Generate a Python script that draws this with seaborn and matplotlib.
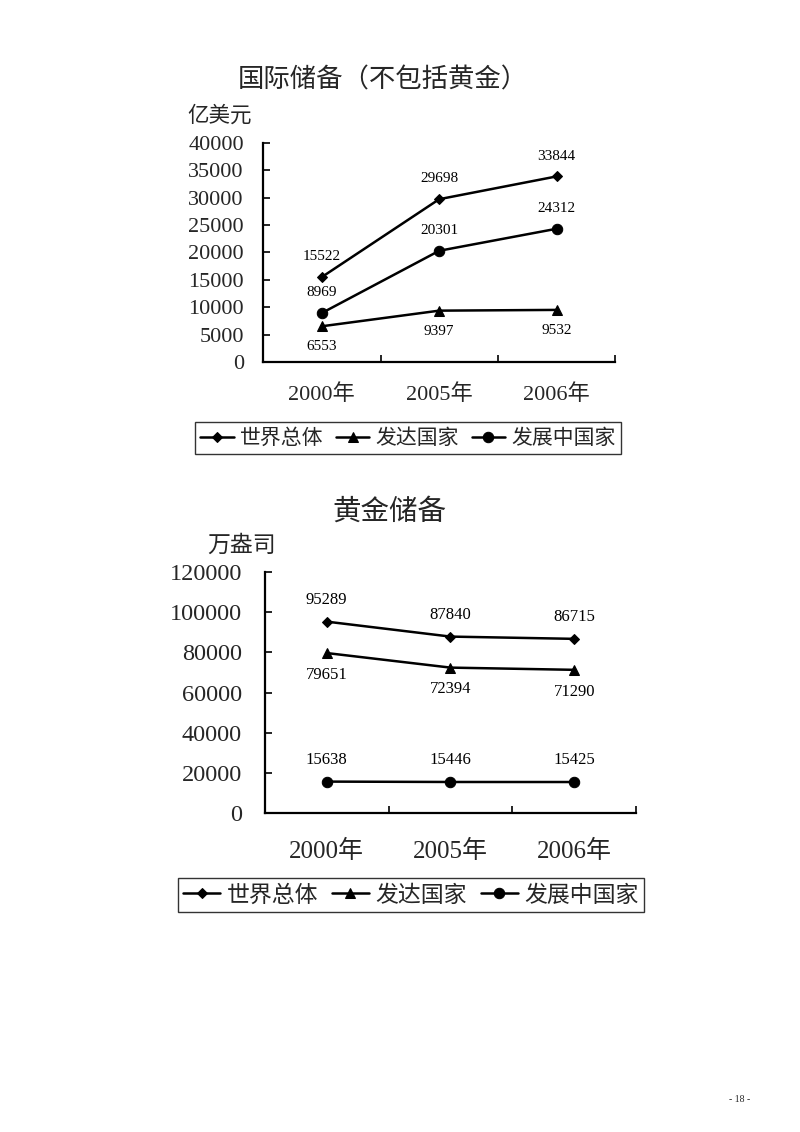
import pandas as pd
import matplotlib
matplotlib.use('Agg')
import matplotlib.pyplot as plt
import seaborn as sns

# --- Data ---
years = ['2000年', '2005年', '2006年']
series_names = ['世界总体', '发达国家', '发展中国家']

# 国际储备（不包括黄金）, 亿美元
reserve_world = [15522, 29698, 33844]
reserve_developed = [6553, 9397, 9532]
reserve_developing = [8969, 20301, 24312]

# 黄金储备, 万盎司
gold_world = [95289, 87840, 86715]
gold_developed = [79651, 72394, 71290]
gold_developing = [15638, 15446, 15425]

sns.set_theme(style='white')
plt.rcParams['font.family'] = ['Liberation Serif', 'Noto Sans CJK SC', 'DejaVu Sans']
plt.rcParams['axes.unicode_minus'] = False

CJK = ['Noto Sans CJK SC', 'DejaVu Sans']
markers = {'世界总体': 'D', '发达国家': '^', '发展中国家': 'o'}
msizes = {'世界总体': 5.5, '发达国家': 7.5, '发展中国家': 7.5}
# where the value label sits: above (+) or below (-) the point
label_side = {'世界总体': 1, '发达国家': -1, '发展中国家': 1}


def make_df(world, developed, developing):
    rows = []
    for name, vals in zip(series_names, [world, developed, developing]):
        for y, v in zip(years, vals):
            rows.append({'year': y, 'value': v, 'series': name})
    return pd.DataFrame(rows)


def draw_panel(ax, df, ymax, ystep, ytick_fs, xtick_fs, label_fs, ypad, xpad):
    handles = []
    for name in series_names:
        sub = df[df['series'] == name]
        sns.lineplot(data=sub, x='year', y='value', ax=ax, color='black',
                     marker=markers[name], markersize=msizes[name],
                     markeredgecolor='black', linewidth=1.8, sort=False)
        handles.append(ax.lines[-1])
        side = label_side[name]
        for i, v in enumerate(sub['value']):
            ax.annotate(f'{v}', (i, v), xytext=(0, side * 10),
                        textcoords='offset points', ha='center',
                        va='bottom' if side > 0 else 'top',
                        fontsize=label_fs, color='black')
    ax.set_xlim(-0.5, 2.5)
    ax.set_ylim(0, ymax)
    ax.set_yticks(range(0, ymax + 1, ystep))
    ax.set_xticks([0, 1, 2])
    ax.set_xticklabels(years)
    ax.set_xticks([0.5, 1.5, 2.5], minor=True)
    ax.tick_params(axis='x', which='major', length=0, pad=xpad, labelsize=xtick_fs)
    ax.tick_params(axis='x', which='minor', length=5, width=1.2, direction='in',
                   bottom=True, color='black')
    ax.tick_params(axis='y', which='major', length=5, width=1.2, direction='in',
                   left=True, color='black', pad=ypad, labelsize=ytick_fs)
    ax.set_xlabel('')
    ax.set_ylabel('')
    for s in ['top', 'right']:
        ax.spines[s].set_visible(False)
    for s in ['left', 'bottom']:
        ax.spines[s].set_color('black')
        ax.spines[s].set_linewidth(1.6)
    ax.grid(False)
    return handles


fig = plt.figure(figsize=(8, 11.32), dpi=100)
fig.patch.set_facecolor('white')

# --- Panel 1: 国际储备 ---
ax1 = fig.add_axes([0.329, 0.680, 0.44, 0.194])
h1 = draw_panel(ax1, make_df(reserve_world, reserve_developed, reserve_developing),
                40000, 5000, 16, 16, 11, 14, 16)
fig.text(383 / 800, 1 - 80 / 1132, '国际储备（不包括黄金）', ha='center', va='center',
         fontsize=19, family=CJK)
fig.text(220 / 800, 1 - 116 / 1132, '亿美元', ha='center', va='center',
         fontsize=15.5, family=CJK)
leg1 = ax1.legend(h1, series_names, loc='center', ncol=3,
                  bbox_to_anchor=(408 / 800, 1 - 438 / 1132),
                  bbox_transform=fig.transFigure, frameon=True, fancybox=False,
                  edgecolor='black', prop={'family': CJK, 'size': 15},
                  handlelength=1.6, handletextpad=0.3, columnspacing=0.6,
                  borderpad=0.25, borderaxespad=0)
leg1.get_frame().set_linewidth(1.0)

# --- Panel 2: 黄金储备 ---
ax2 = fig.add_axes([0.331, 0.2818, 0.464, 0.2129])
h2 = draw_panel(ax2, make_df(gold_world, gold_developed, gold_developing),
                120000, 20000, 17.5, 18, 12, 16.5, 19)
fig.text(389 / 800, 1 - 512 / 1132, '黄金储备', ha='center', va='center',
         fontsize=20.5, family=CJK)
fig.text(242 / 800, 1 - 545 / 1132, '万盎司', ha='center', va='center',
         fontsize=16.5, family=CJK)
leg2 = ax2.legend(h2, series_names, loc='center', ncol=3,
                  bbox_to_anchor=(411 / 800, 1 - 895 / 1132),
                  bbox_transform=fig.transFigure, frameon=True, fancybox=False,
                  edgecolor='black', prop={'family': CJK, 'size': 16.5},
                  handlelength=1.6, handletextpad=0.3, columnspacing=0.6,
                  borderpad=0.25, borderaxespad=0)
leg2.get_frame().set_linewidth(1.0)

fig.text(740 / 800, 1 - 1100 / 1132, '- 18 -', ha='center', va='center', fontsize=7)

fig.savefig('out.png', dpi=100)
